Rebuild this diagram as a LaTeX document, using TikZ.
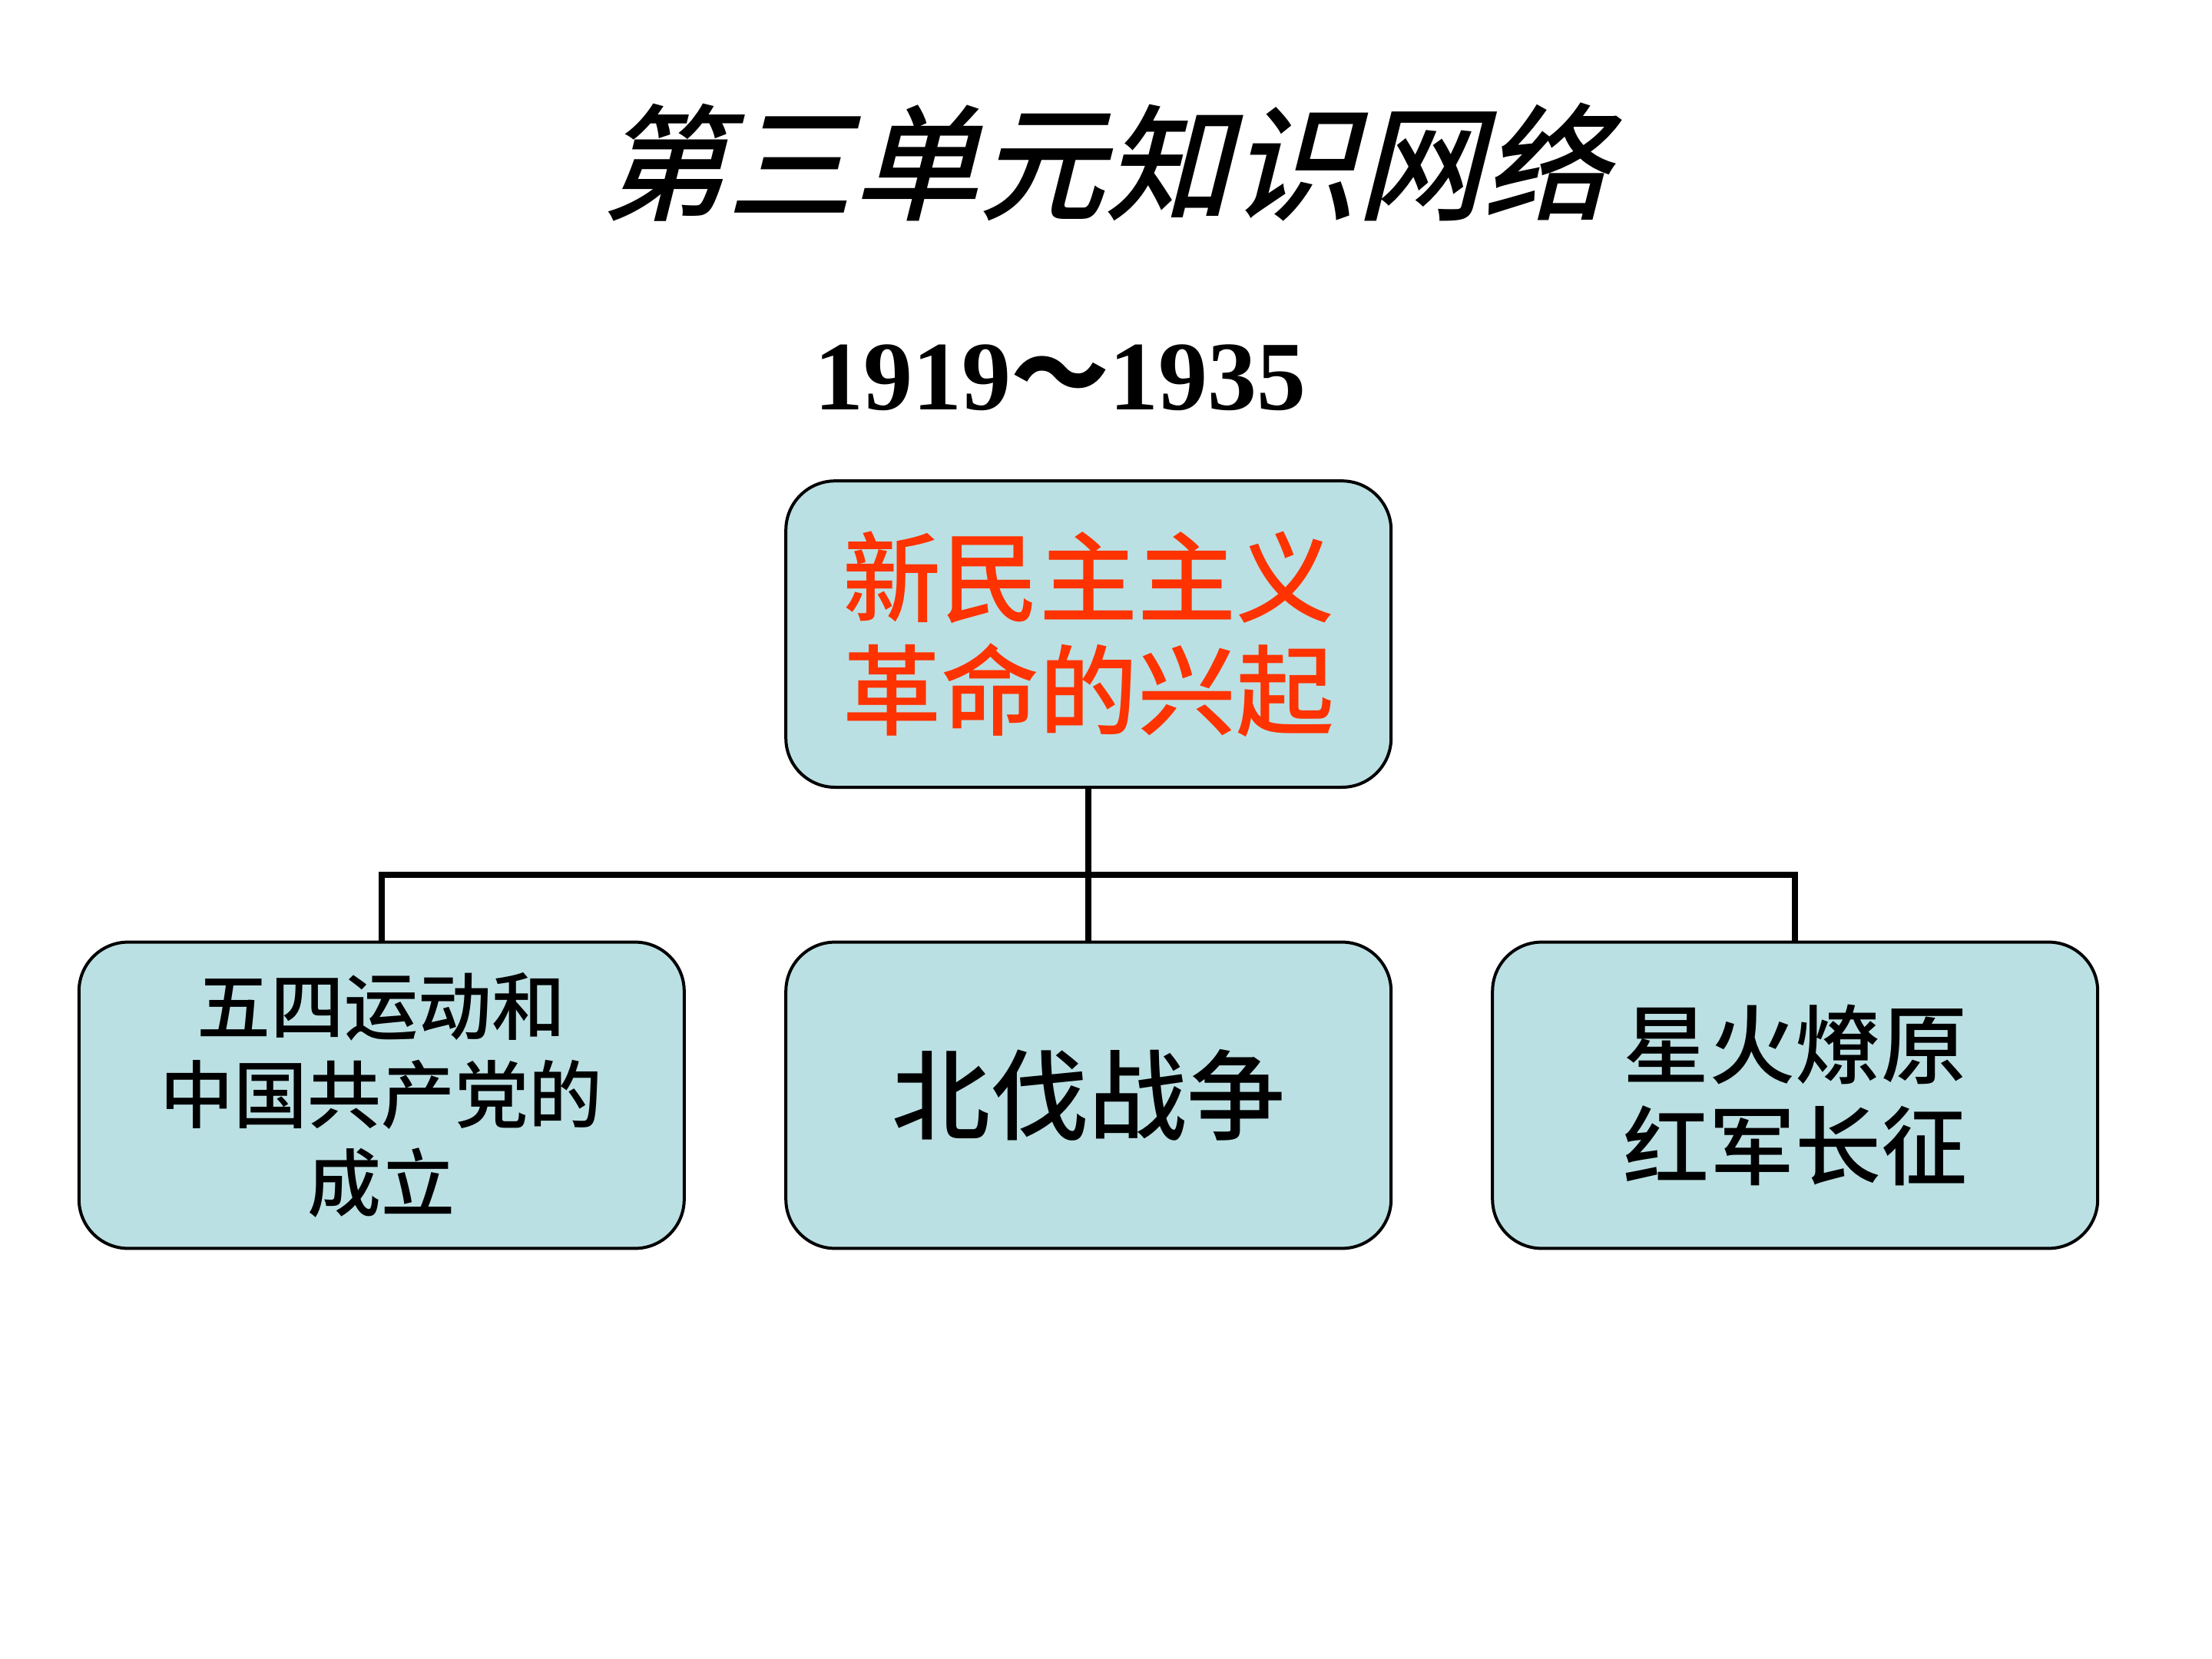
\documentclass[tikz,border=0pt]{standalone}
\usepackage{fontspec}
\setmainfont{Liberation Serif}
\newfontfamily\cjk{Noto Sans CJK SC}
\newfontfamily\cjkm{Noto Sans CJK SC Medium}
\newfontfamily\cjkt[FakeSlant=0.25]{Noto Sans CJK SC Medium}
\definecolor{boxfill}{RGB}{187,224,227}
\definecolor{redtext}{RGB}{255,51,0}
\tikzset{
  box/.style={draw=black, line width=1pt, fill=boxfill, rounded corners=16pt,
    minimum width=197pt, minimum height=99.7pt, inner sep=0pt, align=center},
  conn/.style={line width=2pt, black},
}
\begin{document}
\begin{tikzpicture}[x=1pt,y=1pt]
\useasboundingbox (0,0) rectangle (720,-540);
\node (title) at (359.6,-52.8) {\cjkt\fontsize{41}{41}\selectfont 第三单元知识网络};
\node (years) at (345,-123) {\bfseries\fontsize{32}{32}\selectfont 1919{\cjk\bfseries ～}1935};
\node[box, font=\cjkm\fontsize{32}{36.7}\selectfont, text=redtext] (top) at (354.3,-206.4) {新民主主义\\革命的兴起};
\node[box, font=\cjkm\fontsize{24}{28.7}\selectfont] (left) at (124.2,-356.5) {五四运动和\\中国共产党的\\成立};
\node[box, font=\cjkm\fontsize{32}{36}\selectfont] (mid) at (354.3,-356.5) {北伐战争};
\node[box, font=\cjkm\fontsize{28}{33}\selectfont] (right) at (584.3,-356.5) {星火燎原\\红军长征};
\coordinate (j) at (354.3,-284.7);
\draw[conn] (top.south) -- (j);
\draw[conn] (left.north) |- (j) -| (right.north);
\draw[conn] (j) -- (mid.north);
\end{tikzpicture}
\end{document}
